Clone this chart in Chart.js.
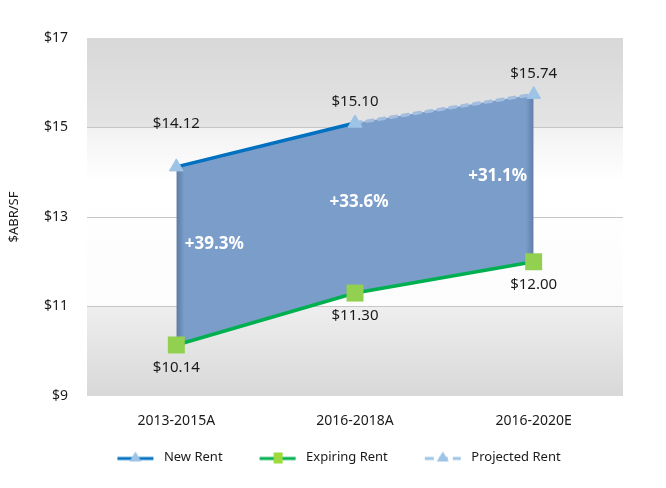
<!DOCTYPE html>
<html>
<head>
<meta charset="utf-8">
<script src="https://cdn.jsdelivr.net/npm/chart.js@4.4.1/dist/chart.umd.min.js"></script>
<style>
  html, body { margin: 0; padding: 0; background: #fff; }
</style>
</head>
<body>
<canvas id="rentChart" width="666" height="488"></canvas>
<script>
// chart values
const periods = ['2013-2015A', '2016-2018A', '2016-2020E'];
const newRent = [14.12, 15.10, null];
const projectedRent = [null, 15.10, 15.74];
const expiringRent = [10.14, 11.30, 12.00];
const spreadLabels = ['+39.3%', '+33.6%', '+31.1%'];
const yMin = 9, yMax = 17, yStep = 2;

const FONT = '"Noto Sans", "Open Sans", sans-serif';
const TEXT = '#1a1a1a';

// top edge of the shaded band = new rent, then projected
const topEdge = newRent.map((v, i) => v ?? projectedRent[i]);

// line+marker icons for the legend (left margin gives the gap between items)
function legendIcon(color, dash, markColor, mark) {
    const c = document.createElement('canvas');
    c.width = 52; c.height = 16;
    const g = c.getContext('2d');
    g.strokeStyle = color;
    g.lineWidth = 3;
    if (dash) g.setLineDash(dash);
    g.beginPath(); g.moveTo(12, 9); g.lineTo(48, 9); g.stroke();
    g.fillStyle = markColor;
    if (mark === 'triangle') {
        g.beginPath(); g.moveTo(30, 2); g.lineTo(36, 12); g.lineTo(24, 12); g.closePath(); g.fill();
    } else {
        g.fillRect(26, 3, 9, 11);
    }
    return c;
}
const icons = [
    legendIcon('#0070C0', null, '#9DC3E6', 'triangle'),
    legendIcon('#00B050', null, '#9BDB3C', 'square'),
    legendIcon('#9DC3E6', [9, 5], '#9DC3E6', 'triangle')
];

// plot area background
const plotBg = {
    id: 'plotBg',
    beforeDraw(chart) {
        const { ctx, chartArea: a, scales: { y } } = chart;
        const f = v => (y.getPixelForValue(v) - a.top) / (a.bottom - a.top);
        const g = ctx.createLinearGradient(0, a.top, 0, a.bottom);
        g.addColorStop(0, '#d8d8d8');
        g.addColorStop(f(15), '#e4e4e4');
        g.addColorStop(f(15) + 0.002, '#f2f2f2');
        g.addColorStop(f(13.8), '#ffffff');
        g.addColorStop(f(11), '#fcfcfc');
        g.addColorStop(f(11) + 0.002, '#eeeeee');
        g.addColorStop(1, '#d8d8d8');
        ctx.save();
        ctx.fillStyle = g;
        ctx.fillRect(a.left, a.top, a.right - a.left, a.bottom - a.top);
        ctx.restore();
    }
};

// value labels and % spread labels
const valueLabels = {
    id: 'valueLabels',
    afterDatasetsDraw(chart) {
        const { ctx, scales: { x, y } } = chart;
        const lift = [43, 21, 21];
        ctx.save();
        ctx.textAlign = 'center';
        ctx.textBaseline = 'middle';
        ctx.fillStyle = TEXT;
        ctx.font = '15px ' + FONT;
        topEdge.forEach((v, i) => {
            ctx.fillText('$' + v.toFixed(2), x.getPixelForValue(i), y.getPixelForValue(v) - lift[i]);
        });
        expiringRent.forEach((v, i) => {
            ctx.fillText('$' + v.toFixed(2), x.getPixelForValue(i), y.getPixelForValue(v) + 23);
        });
        const dx = [38, 4, -36], dy = [-12, -6, -2];
        ctx.fillStyle = '#ffffff';
        ctx.font = 'bold 17px ' + FONT;
        spreadLabels.forEach((t, i) => {
            const mid = (y.getPixelForValue(topEdge[i]) + y.getPixelForValue(expiringRent[i])) / 2;
            ctx.fillText(t, x.getPixelForValue(i) + dx[i], mid + dy[i]);
        });
        ctx.restore();
    }
};

new Chart(document.getElementById('rentChart'), {
    type: 'line',
    data: {
        labels: periods,
        datasets: [
            {
                label: 'New Rent',
                data: newRent,
                borderColor: '#0070C0',
                borderWidth: 3.5,
                pointStyle: 'triangle',
                pointRadius: 8,
                pointBackgroundColor: '#9DC3E6',
                pointBorderColor: '#9DC3E6',
                pointBorderWidth: 1,
                fill: false,
                order: 0
            },
            {
                label: 'Expiring Rent',
                data: expiringRent,
                borderColor: '#00B050',
                borderWidth: 3.5,
                pointStyle: 'rect',
                pointRadius: 12,
                pointBackgroundColor: '#92D050',
                pointBorderColor: '#92D050',
                pointBorderWidth: 0,
                fill: false,
                order: 0
            },
            {
                label: 'Projected Rent',
                data: projectedRent,
                borderColor: '#A3BEDF',
                borderWidth: 3.5,
                borderDash: [6, 6],
                borderCapStyle: 'round',
                pointStyle: 'triangle',
                pointRadius: 8,
                pointBackgroundColor: '#9DC3E6',
                pointBorderColor: '#9DC3E6',
                pointBorderWidth: 1,
                fill: false,
                order: 0
            },
            {
                label: 'band',
                data: topEdge,
                borderWidth: 0,
                pointRadius: 0,
                fill: 1,
                order: 5,
                backgroundColor: (c) => {
                    const ch = c.chart;
                    if (!ch.chartArea) return '#7B9DCA';
                    const x = ch.scales.x;
                    const x0 = x.getPixelForValue(0), x1 = x.getPixelForValue(periods.length - 1);
                    const s = 8 / (x1 - x0);
                    const g = ch.ctx.createLinearGradient(x0, 0, x1, 0);
                    g.addColorStop(0, '#5b7aa3');
                    g.addColorStop(s, '#7B9DCA');
                    g.addColorStop(1 - s, '#7B9DCA');
                    g.addColorStop(1, '#5f7ea8');
                    return g;
                }
            }
        ]
    },
    options: {
        responsive: false,
        animation: false,
        layout: { padding: { top: 38, left: 0, right: 0, bottom: 14 } },
        plugins: {
            tooltip: { enabled: false },
            legend: {
                position: 'bottom',
                labels: {
                    usePointStyle: true,
                    pointStyleWidth: 52,
                    padding: 25,
                    color: TEXT,
                    font: { family: FONT, size: 13 },
                    generateLabels: () => ['New Rent', 'Expiring Rent', 'Projected Rent'].map((t, i) => ({
                        text: t,
                        pointStyle: icons[i],
                        fillStyle: 'transparent',
                        strokeStyle: 'transparent',
                        lineWidth: 0,
                        hidden: false,
                        datasetIndex: i,
                        fontColor: TEXT
                    }))
                }
            }
        },
        scales: {
            x: {
                offset: true,
                grid: { display: false, offset: true },
                border: { display: false },
                ticks: { color: TEXT, font: { family: FONT, size: 14 }, padding: 9 },
                afterFit: (s) => { s.height = 30; }
            },
            y: {
                min: yMin,
                max: yMax,
                border: { display: false },
                grid: {
                    drawTicks: false,
                    color: (c) => (c.tick && (c.tick.value === yMin || c.tick.value === yMax)) ? 'rgba(0,0,0,0)' : '#c6c6c6'
                },
                ticks: {
                    stepSize: yStep,
                    padding: 19,
                    color: TEXT,
                    font: { family: FONT, size: 14 },
                    callback: (v) => '$' + v
                },
                title: {
                    display: true,
                    text: '$ABR/SF',
                    color: TEXT,
                    font: { family: FONT, size: 13 },
                    padding: { top: 6, bottom: 0 }
                },
                afterFit: (s) => { s.width = 87; }
            },
            y2: {
                position: 'right',
                grid: { display: false },
                border: { display: false },
                ticks: { display: false },
                afterFit: (s) => { s.width = 43; }
            }
        }
    },
    plugins: [plotBg, valueLabels]
});
</script>
</body>
</html>
